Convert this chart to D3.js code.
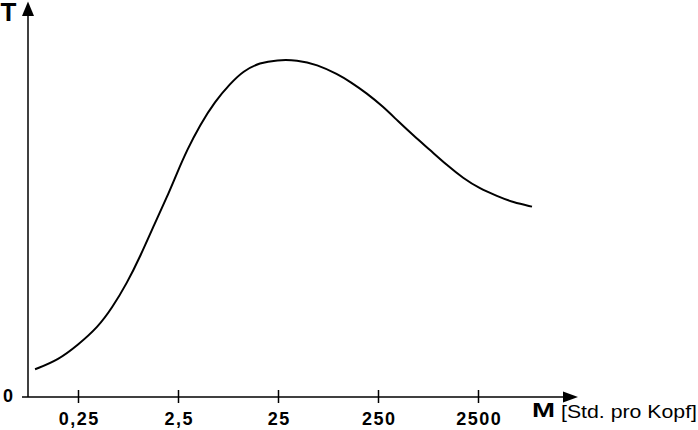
<!DOCTYPE html>
<html>
<head>
<meta charset="utf-8">
<script src="https://cdn.jsdelivr.net/npm/d3@7"></script>
<style>
  html, body { margin: 0; padding: 0; background: #fff; }
  svg { display: block; font-family: "Liberation Sans", Arial, sans-serif; }
</style>
</head>
<body>
<svg id="chart" width="698" height="430"></svg>
<script>
// Data: M in hours per head (log scale), T relative height
const mValues = [0.093, 0.158, 0.25, 0.396, 0.547, 0.773, 1.04, 1.47, 1.94, 2.44, 3.08, 4.15, 5.86, 8.28, 11.2, 16.5, 24.4, 38.7, 61.4, 99.5, 131, 194, 281, 396, 560, 828, 1224, 1770, 2619, 3873, 5600, 8670];
const tValues = [7.3, 9.7, 13.7, 18.4, 23.4, 30.0, 36.8, 45.8, 52.6, 58.9, 65.0, 71.6, 77.8, 82.4, 85.8, 88.0, 88.7, 88.7, 87.5, 84.9, 83.0, 79.9, 76.4, 72.6, 68.9, 65.0, 61.0, 57.6, 54.8, 52.9, 51.2, 50.1];
const xTickValues = [0.25, 2.5, 25, 250, 2500];
const yTickLabels = ["0"];
const yAxisLabel = "T";
const xAxisLabel = "M";
const xAxisUnit = "[Std. pro Kopf]";

const svg = d3.select("#chart");

const x = d3.scaleLog().domain([0.25, 2500]).range([78, 478]);
const y = d3.scaleLinear().domain([0, 100]).range([397, 17]);

const axisX0 = 28;      // y-axis position
const axisY0 = y(0);    // x-axis position

// X axis line + arrow
svg.append("line")
  .attr("x1", 22).attr("x2", 565)
  .attr("y1", axisY0).attr("y2", axisY0)
  .attr("stroke", "#000").attr("stroke-width", 1.5);
svg.append("path")
  .attr("d", `M563,${axisY0 - 5.5} L578,${axisY0} L563,${axisY0 + 5.5} Z`)
  .attr("fill", "#000");

// Y axis line + arrow
svg.append("line")
  .attr("x1", axisX0).attr("x2", axisX0)
  .attr("y1", axisY0).attr("y2", 14)
  .attr("stroke", "#000").attr("stroke-width", 1.5);
svg.append("path")
  .attr("d", `M${axisX0 - 6},16 L${axisX0},1.5 L${axisX0 + 6},16 Z`)
  .attr("fill", "#000");

// X ticks via d3 axis
const xAxis = d3.axisBottom(x)
  .tickValues(xTickValues)
  .tickSize(6)
  .tickPadding(9)
  .tickFormat(d => String(d).replace(".", ","));

const gx = svg.append("g")
  .attr("transform", `translate(0,${axisY0})`)
  .call(xAxis);
gx.select(".domain").remove();
gx.selectAll(".tick line")
  .attr("y1", -7).attr("y2", 6)
  .attr("stroke", "#000").attr("stroke-width", 1.5);
gx.selectAll(".tick text")
  .attr("fill", "#000")
  .attr("dx", "0.8px")
  .style("font-family", "'Liberation Sans', Arial, sans-serif")
  .style("font-size", "18px")
  .style("font-weight", "bold")
  .style("letter-spacing", "1.5px");

// Y tick label "0"
svg.append("text")
  .attr("x", 13).attr("y", axisY0 + 5)
  .attr("text-anchor", "end")
  .style("font-size", "18px").style("font-weight", "bold")
  .text(yTickLabels[0]);

// Axis titles
svg.append("text")
  .attr("x", 0.5).attr("y", 21)
  .style("font-size", "26px").style("font-weight", "bold")
  .text(yAxisLabel);

svg.append("text")
  .attr("x", 532).attr("y", 417)
  .attr("textLength", 23).attr("lengthAdjust", "spacingAndGlyphs")
  .style("font-size", "20px").style("font-weight", "bold")
  .text(xAxisLabel);

svg.append("text")
  .attr("x", 561).attr("y", 418)
  .attr("textLength", 136).attr("lengthAdjust", "spacingAndGlyphs")
  .style("font-size", "18px")
  .text(xAxisUnit);

// Curve
const data = mValues.map((m, i) => ({ m, t: tValues[i] }));
const line = d3.line()
  .x(d => x(d.m))
  .y(d => y(d.t))
  .curve(d3.curveBasis);

svg.append("path")
  .datum(data)
  .attr("d", line)
  .attr("fill", "none")
  .attr("stroke", "#000")
  .attr("stroke-width", 2);
</script>
</body>
</html>
